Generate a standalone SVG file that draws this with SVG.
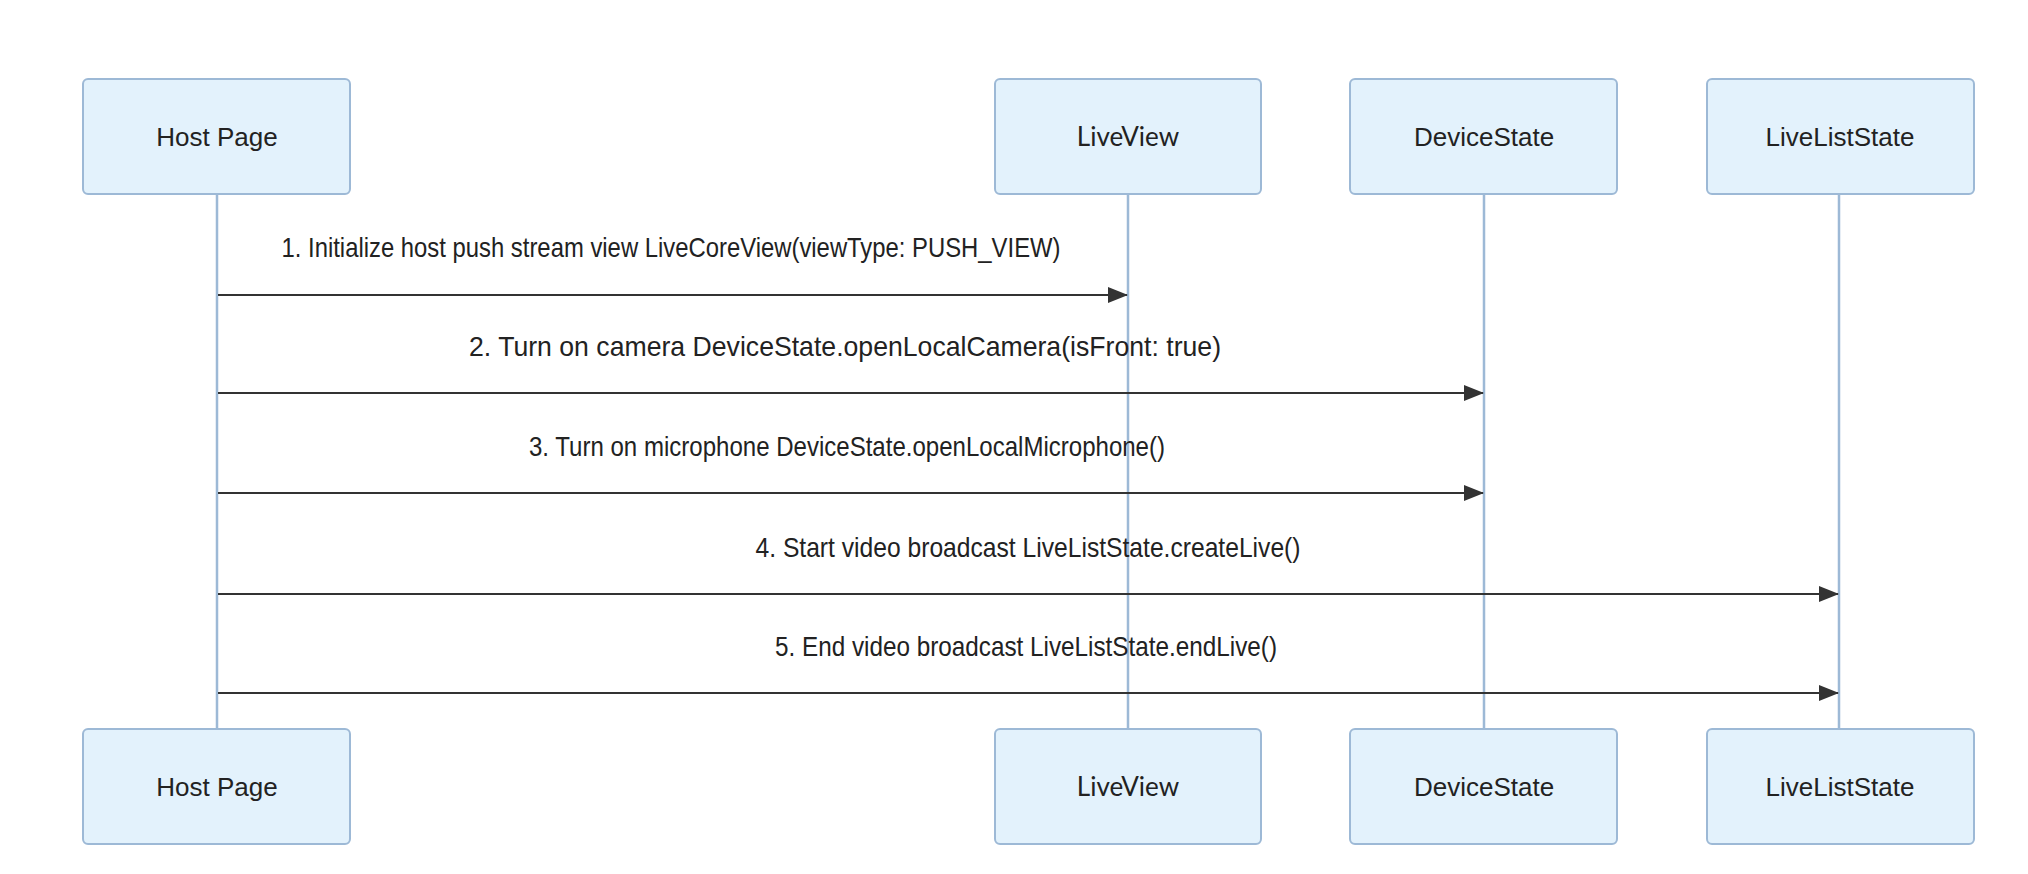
<svg xmlns="http://www.w3.org/2000/svg" width="2028" height="874" viewBox="0 0 2028 874">
<style>
.box{fill:#e3f2fc;stroke:#9db9d6;stroke-width:2}
.lbl{font-family:"Liberation Sans",Arial,sans-serif;font-size:26px;fill:#222;text-anchor:middle}
.msg{font-family:"Liberation Sans",Arial,sans-serif;font-size:28px;fill:#222;text-anchor:middle}
.life{stroke:#9db9d6;stroke-width:2.5}
.arr{stroke:#333;stroke-width:2.2;fill:none;marker-end:url(#ah)}
</style>
<defs>
<marker id="ah" markerWidth="20" markerHeight="16" refX="19" refY="8" orient="auto" markerUnits="userSpaceOnUse">
<path d="M0,0 L20,8 L0,16 Z" fill="#333"/>
</marker>
</defs>
<rect width="2028" height="874" fill="#ffffff"/>
<g id="lifelines">
<line class="life" x1="217" y1="194" x2="217" y2="729"/>
<line class="life" x1="1128" y1="194" x2="1128" y2="729"/>
<line class="life" x1="1484" y1="194" x2="1484" y2="729"/>
<line class="life" x1="1839" y1="194" x2="1839" y2="729"/>
</g>
<g id="host-top"><rect class="box" x="83" y="79" width="267" height="115" rx="5"/><text class="lbl" x="217" y="146">Host Page</text></g>
<g id="liveview-top"><rect class="box" x="995" y="79" width="266" height="115" rx="5"/><text class="lbl" x="1128" y="146" style="font-family:Lato,'Liberation Sans',sans-serif">LiveView</text></g>
<g id="devicestate-top"><rect class="box" x="1350" y="79" width="267" height="115" rx="5"/><text class="lbl" x="1484" y="146">DeviceState</text></g>
<g id="liveliststate-top"><rect class="box" x="1707" y="79" width="267" height="115" rx="5"/><text class="lbl" x="1840" y="146">LiveListState</text></g>
<g id="host-bottom"><rect class="box" x="83" y="729" width="267" height="115" rx="5"/><text class="lbl" x="217" y="796">Host Page</text></g>
<g id="liveview-bottom"><rect class="box" x="995" y="729" width="266" height="115" rx="5"/><text class="lbl" x="1128" y="796" style="font-family:Lato,'Liberation Sans',sans-serif">LiveView</text></g>
<g id="devicestate-bottom"><rect class="box" x="1350" y="729" width="267" height="115" rx="5"/><text class="lbl" x="1484" y="796">DeviceState</text></g>
<g id="liveliststate-bottom"><rect class="box" x="1707" y="729" width="267" height="115" rx="5"/><text class="lbl" x="1840" y="796">LiveListState</text></g>
<g id="connectors">
<line class="arr" x1="218" y1="295" x2="1127" y2="295"/>
<line class="arr" x1="218" y1="393" x2="1483" y2="393"/>
<line class="arr" x1="218" y1="493" x2="1483" y2="493"/>
<line class="arr" x1="218" y1="594" x2="1838" y2="594"/>
<line class="arr" x1="218" y1="693" x2="1838" y2="693"/>
<text class="msg" x="671" y="257" textLength="779" lengthAdjust="spacingAndGlyphs">1. Initialize host push stream view LiveCoreView(viewType: PUSH_VIEW)</text>
<text class="msg" x="845" y="356" textLength="752" lengthAdjust="spacingAndGlyphs">2. Turn on camera DeviceState.openLocalCamera(isFront: true)</text>
<text class="msg" x="847" y="456" textLength="636" lengthAdjust="spacingAndGlyphs">3. Turn on microphone DeviceState.openLocalMicrophone()</text>
<text class="msg" x="1028" y="557" textLength="545" lengthAdjust="spacingAndGlyphs">4. Start video broadcast LiveListState.createLive()</text>
<text class="msg" x="1026" y="656" textLength="502" lengthAdjust="spacingAndGlyphs">5. End video broadcast LiveListState.endLive()</text>
</g>
</svg>
